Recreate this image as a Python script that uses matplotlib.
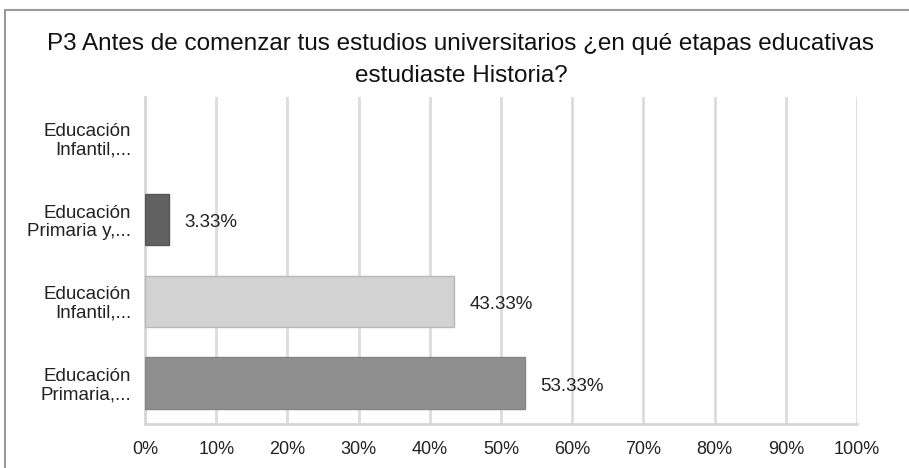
import matplotlib.pyplot as plt
from matplotlib.patches import Rectangle
import numpy as np

plt.rcParams["font.family"] = ["Liberation Sans", "DejaVu Sans"]

categories = [
    "Educación\nInfantil,...",
    "Educación\nPrimaria y,...",
    "Educación\nInfantil,...",
    "Educación\nPrimaria,...",
]
values = [0.0, 3.33, 43.33, 53.33]
bar_colors = ["#7a7a7a", "#616161", "#d2d2d2", "#8f8f8f"]
edge_colors = ["#7a7a7a", "#555555", "#b8b8b8", "#858585"]
xticks = list(range(0, 101, 10))

fig = plt.figure(figsize=(9.09, 4.68), dpi=100)
fig.patches.append(Rectangle((5 / 909, -0.05), 1.1, 1 - 10 / 468 + 0.05,
                             transform=fig.transFigure, fill=False,
                             edgecolor="#9a9a9a", linewidth=1.5))

ax = fig.add_axes([145 / 909, 1 - 424 / 468, (857 - 145) / 909, (424 - 97) / 468])

y = np.arange(len(categories))
lw = [1 if v > 0 else 0 for v in values]
ax.barh(y, values, height=0.63, color=bar_colors, edgecolor=edge_colors,
        linewidth=lw, zorder=3)
for yi, v in zip(y, values):
    if v > 0:
        ax.text(v + 2.2, yi + 0.04, f"{v:.2f}%", va="center", ha="left",
                fontsize=13.5, color="#222222")

ax.set_ylim(len(categories) - 0.5, -0.5)
ax.set_xlim(0, 100)
ax.set_yticks(y)
ax.set_yticklabels(categories, fontsize=13.5, color="#222222", ha="right",
                   linespacing=1.1)
ax.set_xticks(xticks)
ax.set_xticklabels([f"{t}%" for t in xticks], fontsize=13, color="#222222")
ax.tick_params(length=0)
ax.tick_params(axis="x", pad=12)
ax.tick_params(axis="y", pad=10)

ax.grid(axis="x", color="#dcdcdc", linewidth=2, zorder=0)
for s in ["top", "right"]:
    ax.spines[s].set_visible(False)
for s in ["left", "bottom"]:
    ax.spines[s].set_color("#d6d6d6")
    ax.spines[s].set_linewidth(2)

fig.text(0.507, 1 - 60 / 468,
         "P3 Antes de comenzar tus estudios universitarios ¿en qué etapas educativas\nestudiaste Historia?",
         ha="center", va="center", fontsize=17.5, color="#111111", linespacing=1.55)

fig.savefig("out.png", dpi=100)
